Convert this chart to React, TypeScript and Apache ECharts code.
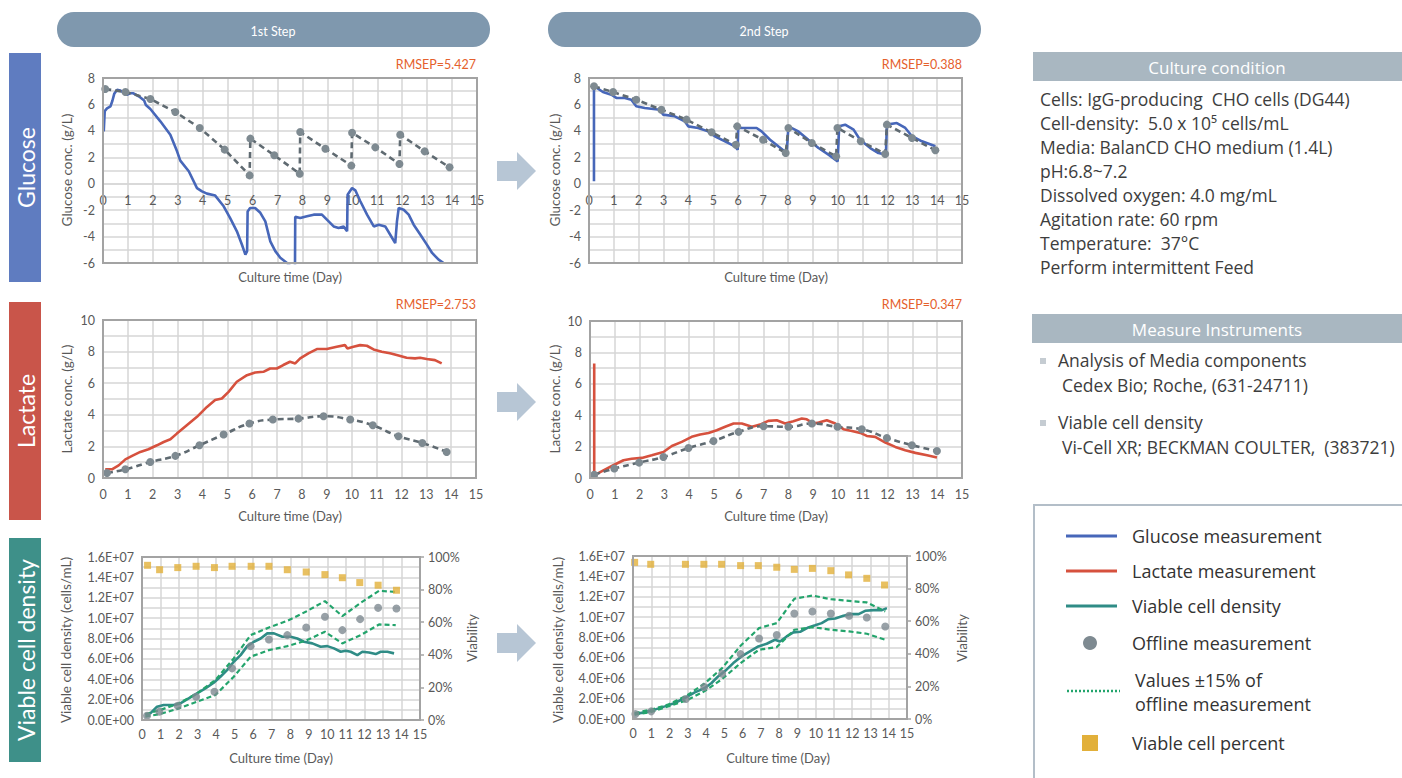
import React, { useEffect, useRef } from 'react';
import * as echarts from 'echarts';

// ---------- DATA ----------
const dayTicks = [0, 15];

const glucose1Online: number[][] = [
  [0.03, 3.96], [0.07, 5.5], [0.16, 5.7], [0.3, 5.85], [0.38, 6.3], [0.45, 6.8], [0.56, 7.1], [0.7, 7.05],
  [0.85, 6.85], [0.96, 6.72], [1.1, 6.85], [1.2, 6.85], [1.45, 6.6], [1.65, 6.3], [1.72, 5.95], [1.9, 5.65],
  [2.3, 4.72], [2.7, 3.71], [2.97, 2.45], [3.1, 1.75], [3.44, 0.94], [3.77, -0.33], [3.97, -0.58], [4.17, -0.75],
  [4.5, -0.9], [4.84, -1.71], [5.1, -2.6], [5.37, -3.6], [5.57, -4.6], [5.71, -5.37], [5.78, -5.1], [5.8, -2.1],
  [5.9, -1.84], [6.1, -1.84], [6.31, -2.2], [6.51, -2.85], [6.71, -4.36], [6.91, -5.1], [7.11, -5.6], [7.38, -6.0],
  [7.55, -6.3], [7.7, -6.3], [7.71, -2.5], [7.91, -2.6], [8.18, -2.47], [8.45, -2.34], [8.78, -2.34], [8.98, -2.72],
  [9.25, -3.23], [9.45, -3.35], [9.65, -3.23], [9.79, -3.6], [9.81, -0.83], [9.99, -0.33], [10.12, -0.5], [10.32, -1.33],
  [10.59, -2.34], [10.86, -3.23], [11.06, -3.1], [11.32, -3.23], [11.52, -3.86], [11.72, -4.49], [11.79, -2.85],
  [11.86, -1.84], [12.06, -1.97], [12.26, -2.34], [12.46, -3.1], [12.73, -3.86], [12.99, -4.61], [13.2, -5.24],
  [13.46, -5.75], [13.66, -6.0],
];
const glucose1Offline: number[][] = [
  [0.09, 7.17], [0.9, 6.94], [1.9, 6.41], [2.9, 5.43], [3.88, 4.22], [4.88, 2.58], [5.88, 0.63], [5.91, 3.41],
  [6.87, 2.15], [7.89, 0.76], [7.91, 3.91], [8.92, 2.65], [9.96, 1.37], [9.99, 3.86], [10.92, 2.75], [11.89, 1.49],
  [11.92, 3.71], [12.9, 2.45], [13.9, 1.24],
];
const glucose2Online: number[][] = [
  [0.2, 0.18], [0.2, 7.4], [0.56, 6.94], [0.9, 6.74], [1.1, 6.49], [1.44, 6.49], [1.7, 6.36], [1.9, 5.86],
  [2.24, 5.73], [2.85, 5.6], [2.98, 5.23], [3.45, 5.1], [3.85, 4.72], [3.99, 4.34], [4.39, 4.22], [4.79, 3.96],
  [5.06, 3.59], [5.47, 3.21], [5.87, 2.83], [5.98, 2.58], [6.0, 4.22], [6.27, 4.22], [6.74, 4.22], [6.94, 3.96],
  [7.28, 3.33], [7.61, 2.83], [7.95, 2.32], [8.02, 4.34], [8.42, 3.96], [8.82, 3.33], [9.23, 2.7], [9.63, 2.2],
  [10.0, 1.69], [10.06, 4.34], [10.3, 4.47], [10.64, 4.09], [10.9, 3.33], [11.31, 2.7], [11.64, 2.32], [11.94, 2.2],
  [11.98, 4.47], [12.38, 4.59], [12.72, 4.22], [12.99, 3.59], [13.39, 3.21], [13.93, 2.83],
];
const glucose2Offline: number[][] = [
  [0.2, 7.37], [0.97, 6.94], [1.9, 6.36], [2.91, 5.6], [3.92, 4.85], [4.93, 3.89], [5.91, 2.95], [5.96, 4.34],
  [7.0, 3.33], [7.91, 2.32], [8.02, 4.22], [8.96, 3.08], [9.94, 2.07], [9.99, 4.22], [10.93, 3.21], [11.91, 2.25],
  [11.98, 4.47], [12.99, 3.46], [13.93, 2.53],
];

const lactate1Online: number[][] = [
  [0.09, 0.55], [0.36, 0.55], [0.63, 0.8], [0.9, 1.18], [1.17, 1.4], [1.5, 1.65], [1.83, 1.82], [2.17, 2.07],
  [2.44, 2.28], [2.71, 2.45], [2.97, 2.81], [3.37, 3.34], [3.78, 3.87], [4.18, 4.5], [4.51, 4.93], [4.78, 5.03],
  [5.05, 5.45], [5.38, 6.09], [5.79, 6.51], [6.12, 6.68], [6.45, 6.72], [6.72, 6.93], [6.99, 6.93], [7.25, 7.15],
  [7.52, 7.36], [7.73, 7.25], [7.93, 7.57], [8.26, 7.89], [8.6, 8.16], [9.0, 8.16], [9.4, 8.31], [9.73, 8.41],
  [9.83, 8.2], [10.07, 8.31], [10.34, 8.41], [10.61, 8.37], [10.88, 8.14], [11.21, 7.99], [11.54, 7.89],
  [11.81, 7.78], [12.21, 7.61], [12.55, 7.57], [12.75, 7.61], [13.02, 7.53], [13.35, 7.46], [13.62, 7.25],
];
const lactate1Offline: number[][] = [
  [0.16, 0.32], [0.9, 0.55], [1.9, 1.01], [2.91, 1.4], [3.88, 2.07], [4.85, 2.75], [5.89, 3.45], [6.83, 3.7],
  [7.86, 3.76], [8.87, 3.91], [9.94, 3.7], [10.85, 3.34], [11.88, 2.64], [12.84, 2.22], [13.82, 1.65],
];
const lactate2Online: number[][] = [
  [0.17, 7.3], [0.17, 0.17], [0.54, 0.49], [0.94, 0.81], [1.35, 1.13], [1.68, 1.23], [2.09, 1.28], [2.49, 1.45],
  [2.96, 1.66], [3.3, 2.04], [3.7, 2.3], [4.1, 2.62], [4.44, 2.77], [4.78, 2.87], [5.11, 3.04], [5.45, 3.26],
  [5.79, 3.47], [6.12, 3.47], [6.53, 3.26], [6.86, 3.4], [7.19, 3.64], [7.53, 3.68], [7.87, 3.47], [8.2, 3.62],
  [8.54, 3.79], [8.74, 3.74], [9.01, 3.47], [9.22, 3.53], [9.55, 3.68], [9.89, 3.47], [10.22, 3.11], [10.56, 3.0],
  [10.9, 2.87], [11.16, 2.68], [11.5, 2.62], [11.91, 2.26], [12.31, 1.98], [12.71, 1.77], [13.12, 1.6],
  [13.59, 1.45], [13.99, 1.3],
];
const lactate2Offline: number[][] = [
  [0.17, 0.21], [0.98, 0.6], [1.98, 0.98], [2.96, 1.34], [3.97, 1.91], [4.98, 2.36], [5.99, 2.94], [7.0, 3.3],
  [8.0, 3.26], [8.95, 3.47], [9.98, 3.26], [10.96, 3.11], [11.97, 2.55], [12.98, 2.09], [13.99, 1.72],
];

const vcd1Online: number[][] = [
  [0.18, 0.49e6], [0.45, 0.65e6], [0.81, 1.31e6], [1.17, 1.47e6], [1.71, 1.47e6], [2.07, 1.63e6], [2.52, 2.12e6],
  [2.97, 2.61e6], [3.42, 3.1e6], [3.87, 3.66e6], [4.23, 4.25e6], [4.59, 4.9e6], [4.95, 5.72e6], [5.32, 6.37e6],
  [5.68, 7.25e6], [6.04, 7.68e6], [6.4, 8.0e6], [6.76, 8.5e6], [7.12, 8.5e6], [7.57, 8.17e6], [8.02, 8.17e6],
  [8.38, 8.0e6], [8.74, 7.68e6], [9.19, 7.52e6], [9.64, 7.19e6], [10.0, 7.25e6], [10.36, 7.03e6], [10.72, 6.7e6],
  [10.99, 6.8e6], [11.26, 6.7e6], [11.62, 6.37e6], [11.89, 6.7e6], [12.25, 6.63e6], [12.61, 6.47e6],
  [12.88, 6.7e6], [13.24, 6.7e6], [13.6, 6.54e6],
];
const vcd1Offline: number[][] = [
  [0.27, 0.42e6], [0.94, 0.82e6], [1.93, 1.4e6], [2.92, 2.29e6], [3.91, 2.78e6], [4.86, 5.07e6], [5.86, 7.25e6],
  [6.85, 7.91e6], [7.84, 8.33e6], [8.86, 9.08e6], [9.87, 10.13e6], [10.81, 8.82e6], [11.77, 9.9e6],
  [12.74, 11.01e6], [13.73, 10.95e6],
];
const vcd1Upper: number[][] = [
  [0.18, 0.59e6], [0.99, 0.98e6], [1.98, 1.63e6], [2.97, 2.61e6], [3.96, 3.92e6], [4.95, 6.05e6], [5.86, 8.33e6],
  [6.85, 9.08e6], [7.84, 9.74e6], [8.83, 10.62e6], [9.87, 11.67e6], [10.81, 10.2e6], [11.8, 11.5e6],
  [12.79, 12.68e6], [13.69, 12.58e6],
];
const vcd1Lower: number[][] = [
  [0.18, 0.33e6], [0.99, 0.59e6], [1.98, 1.14e6], [2.97, 1.8e6], [3.96, 2.45e6], [4.95, 4.25e6], [5.86, 6.21e6],
  [6.85, 6.86e6], [7.84, 7.25e6], [8.83, 7.78e6], [9.87, 8.66e6], [10.81, 7.52e6], [11.8, 8.33e6],
  [12.79, 9.38e6], [13.69, 9.31e6],
];
const viability1: number[][] = [
  [0.3, 94.9], [0.95, 92.2], [1.93, 93.5], [2.92, 94.3], [3.91, 93.5], [4.86, 94.3], [5.89, 94.3], [6.85, 94.3],
  [7.84, 92.2], [8.86, 90.8], [9.87, 89.2], [10.81, 87.3], [11.75, 84.3], [12.74, 82.7], [13.73, 79.6],
];

const vcd2Online: number[][] = [
  [0.09, 0.49e6], [0.64, 0.65e6], [1.19, 0.92e6], [1.74, 1.24e6], [2.29, 1.57e6], [2.83, 2.06e6], [3.38, 2.61e6],
  [3.93, 3.04e6], [4.3, 3.53e6], [4.66, 4.18e6], [5.12, 4.84e6], [5.49, 5.49e6], [5.94, 6.14e6], [6.4, 6.63e6],
  [6.86, 7.12e6], [7.32, 7.39e6], [7.77, 7.78e6], [8.05, 7.61e6], [8.41, 8.1e6], [8.78, 8.5e6], [9.15, 8.56e6],
  [9.6, 8.99e6], [9.97, 9.2e6], [10.33, 9.41e6], [10.7, 9.8e6], [11.07, 9.87e6], [11.52, 10.13e6],
  [11.89, 10.29e6], [12.35, 10.29e6], [12.71, 10.62e6], [13.17, 10.69e6], [13.63, 10.69e6], [13.9, 10.88e6],
];
const vcd2Offline: number[][] = [
  [0.13, 0.49e6], [1.0, 0.75e6], [2.89, 1.96e6], [3.9, 3.14e6], [4.88, 4.44e6], [5.89, 6.37e6], [6.9, 7.91e6],
  [7.87, 8.24e6], [8.83, 10.36e6], [9.82, 10.56e6], [10.83, 10.36e6], [11.83, 10.13e6], [12.8, 9.97e6],
  [13.81, 9.08e6],
];
const vcd2Upper: number[][] = [
  [0.09, 0.59e6], [1.0, 0.92e6], [1.92, 1.41e6], [2.93, 2.29e6], [3.9, 3.46e6], [4.88, 5.0e6], [5.89, 7.19e6],
  [6.9, 8.92e6], [7.87, 9.41e6], [8.83, 11.8e6], [9.82, 12.12e6], [10.83, 11.76e6], [11.83, 11.6e6],
  [12.8, 11.44e6], [13.81, 10.56e6],
];
const vcd2Lower: number[][] = [
  [0.09, 0.42e6], [1.0, 0.69e6], [1.92, 1.24e6], [2.93, 1.83e6], [3.9, 2.71e6], [4.88, 3.92e6], [5.89, 5.49e6],
  [6.9, 6.8e6], [7.87, 7.06e6], [8.83, 8.76e6], [9.82, 9.02e6], [10.83, 8.76e6], [11.83, 8.6e6],
  [12.8, 8.37e6], [13.81, 7.78e6],
];
const viability2: number[][] = [
  [0.09, 96.1], [0.97, 94.9], [2.87, 94.9], [3.88, 94.9], [4.85, 94.9], [5.89, 94.1], [6.86, 94.1], [7.87, 93.1],
  [8.83, 91.8], [9.82, 92.4], [10.83, 91.0], [11.8, 88.4], [12.8, 86.3], [13.77, 82.2],
];

const rmsepLabels = ['RMSEP=5.427', 'RMSEP=0.388', 'RMSEP=2.753', 'RMSEP=0.347'];
const stepLabels = ['1st Step', '2nd Step'];
const rowLabels = ['Glucose', 'Lactate', 'Viable cell density'];
const cultureLines = [
  'Cells: IgG-producing  CHO cells (DG44)',
  'Cell-density:  5.0 x 10\u2075 cells/mL',
  'Media: BalanCD CHO medium (1.4L)',
  'pH:6.8~7.2',
  'Dissolved oxygen: 4.0 mg/mL',
  'Agitation rate: 60 rpm',
  'Temperature:  37\u00b0C',
  'Perform intermittent Feed',
];
const instrumentItems = [
  ['Analysis of Media components', 'Cedex Bio; Roche, (631-24711)'],
  ['Viable cell density', 'Vi-Cell XR; BECKMAN COULTER,  (383721)'],
];
const legendLabels = [
  'Glucose measurement', 'Lactate measurement', 'Viable cell density', 'Offline measurement',
  'Values \u00b115% of', 'offline measurement', 'Viable cell percent',
];

// ---------- STYLE / LAYOUT ----------
const C = {
  glucose: '#4767b9',
  lactate: '#d6513e',
  vcd: '#2f8c86',
  offlineDot: '#7e8a91',
  offlineLine: '#5f6a71',
  band: '#23a46c',
  viab: '#e2b03a',
  grid: '#d6d6d6',
  border: '#a3a3a3',
  label: '#595959',
  rmsep: '#e5602c',
};
const FONT = 'Lato, "Noto Sans", sans-serif';
const PANEL_FONT = '"Open Sans", "Noto Sans", sans-serif';

const grids = [
  { left: 103, top: 78, width: 374, height: 185 },
  { left: 589, top: 78, width: 373, height: 185 },
  { left: 103, top: 320, width: 373, height: 158 },
  { left: 590, top: 321, width: 372, height: 157 },
  { left: 142, top: 557, width: 278, height: 163 },
  { left: 633, top: 556, width: 274, height: 163 },
];
// glucose y range -6..8: the day axis sits on the zero line
const glucoseMin = -6;
const glucoseMax = 8;

function sci(v: number): string {
  const [m, e] = v.toExponential(1).split('e');
  const ex = parseInt(e, 10);
  return `${m}E${ex < 0 ? '-' : '+'}${String(Math.abs(ex)).padStart(2, '0')}`;
}

function buildOption() {
  const xAxis = grids.map((g, i) => ({
    type: 'value',
    gridIndex: i,
    position: 'bottom',
    min: dayTicks[0],
    max: dayTicks[1],
    interval: 1,
    offset: i < 2 ? -(g.height * (0 - glucoseMin)) / (glucoseMax - glucoseMin) : 0,
    axisLine: { show: true, onZero: false, lineStyle: { color: C.grid, width: 1.5 } },
    axisTick: { show: false },
    splitLine: { show: true, lineStyle: { color: C.grid, width: 1.5 } },
    axisLabel: { color: C.label, fontSize: 12.5, fontFamily: FONT, margin: i < 4 ? 10 : 8 },
  }));

  const baseY = (i: number) => ({
    type: 'value',
    gridIndex: i,
    axisLine: { show: false },
    axisTick: { show: false },
    splitLine: { show: true, lineStyle: { color: C.grid, width: 1.5 } },
    axisLabel: { color: C.label, fontSize: 12.5, fontFamily: FONT, margin: 8 },
  });

  const evenFmt = (v: number) => (v % 2 === 0 ? String(v) : '');
  const sciFmt = (v: number) => (Math.round(v) % 2e6 === 0 ? sci(v) : '');
  const yAxis: any[] = [
    { ...baseY(0), min: glucoseMin, max: glucoseMax, interval: 1, axisLabel: { ...baseY(0).axisLabel, formatter: evenFmt } },
    { ...baseY(1), min: glucoseMin, max: glucoseMax, interval: 1, axisLabel: { ...baseY(1).axisLabel, formatter: evenFmt } },
    { ...baseY(2), min: 0, max: 10, interval: 1, axisLabel: { ...baseY(2).axisLabel, formatter: evenFmt } },
    { ...baseY(3), min: 0, max: 10, interval: 1, axisLabel: { ...baseY(3).axisLabel, formatter: evenFmt } },
    { ...baseY(4), min: 0, max: 1.6e7, interval: 1e6, axisLabel: { ...baseY(4).axisLabel, formatter: sciFmt } },
    { ...baseY(5), min: 0, max: 1.6e7, interval: 1e6, axisLabel: { ...baseY(5).axisLabel, formatter: sciFmt } },
  ];
  [4, 5].forEach((g) => {
    yAxis.push({
      type: 'value', gridIndex: g, position: 'right', min: 0, max: 100, interval: 20,
      axisLine: { show: false },
      axisTick: { show: true, length: 4, lineStyle: { color: C.border, width: 1.5 } },
      splitLine: { show: false },
      axisLabel: { color: C.label, fontSize: 12.5, fontFamily: FONT, margin: 8, formatter: '{value}%' },
    });
  });

  const online = (data: number[][], idx: number, color: string) => ({
    type: 'line', xAxisIndex: idx, yAxisIndex: idx, data, showSymbol: false, symbol: 'none',
    lineStyle: { color, width: 2.6 }, z: 3,
  });
  const offlineLine = (data: number[][], idx: number, smooth = false) => ({
    type: 'line', xAxisIndex: idx, yAxisIndex: idx, data, smooth, symbol: 'circle', symbolSize: 8, showSymbol: true,
    itemStyle: { color: C.offlineDot }, lineStyle: { color: C.offlineLine, width: 2.6, type: [6, 4] }, z: 4,
  });
  const band = (data: number[][], idx: number) => ({
    type: 'line', xAxisIndex: idx, yAxisIndex: idx, data, symbol: 'none', showSymbol: false,
    lineStyle: { color: C.band, width: 2.2, type: [5, 3] }, z: 4,
  });
  const dots = (data: number[][], idx: number) => ({
    type: 'scatter', xAxisIndex: idx, yAxisIndex: idx, data, symbol: 'circle', symbolSize: 8,
    itemStyle: { color: C.offlineDot }, z: 5,
  });
  const squares = (data: number[][], idx: number, yIdx: number) => ({
    type: 'scatter', xAxisIndex: idx, yAxisIndex: yIdx, data, symbol: 'rect', symbolSize: 7,
    itemStyle: { color: C.viab }, z: 5,
  });

  const series = [
    online(glucose1Online, 0, C.glucose),
    offlineLine(glucose1Offline, 0),
    online(glucose2Online, 1, C.glucose),
    offlineLine(glucose2Offline, 1),
    online(lactate1Online, 2, C.lactate),
    offlineLine(lactate1Offline, 2, true),
    online(lactate2Online, 3, C.lactate),
    offlineLine(lactate2Offline, 3, true),
    online(vcd1Online, 4, C.vcd),
    band(vcd1Upper, 4),
    band(vcd1Lower, 4),
    dots(vcd1Offline, 4),
    squares(viability1, 4, 6),
    online(vcd2Online, 5, C.vcd),
    band(vcd2Upper, 5),
    band(vcd2Lower, 5),
    dots(vcd2Offline, 5),
    squares(viability2, 5, 7),
  ];

  const txt = (text: string, x: number, y: number, o: any = {}) => ({
    type: 'text', x, y, rotation: o.rotation || 0, z: 100,
    style: {
      text, fill: o.fill || C.label, font: o.font || `12px ${FONT}`,
      textAlign: o.align || 'center', textVerticalAlign: 'middle',
    },
  });

  const graphic: any[] = [];
  // plot borders
  grids.forEach((g) => {
    graphic.push({
      type: 'rect', z: 90, silent: true,
      shape: { x: g.left, y: g.top, width: g.width, height: g.height },
      style: { fill: 'none', stroke: C.border, lineWidth: 2 },
    });
  });
  // step banners
  const bannerX = [57, 548];
  bannerX.forEach((bx, i) => {
    graphic.push({ type: 'rect', z: 90, shape: { x: bx, y: 12, width: 433, height: 35, r: 17 }, style: { fill: '#7f98ae' } });
    graphic.push(txt(stepLabels[i], bx + 216, 31, { fill: '#ffffff', font: `12.5px ${FONT}` }));
  });
  // row boxes
  const rowBoxes = [
    { y: 53, h: 229, color: '#5f7cc0' },
    { y: 302, h: 218, color: '#c9554a' },
    { y: 538, h: 224, color: '#3e9089' },
  ];
  rowBoxes.forEach((b, i) => {
    graphic.push({ type: 'rect', z: 90, shape: { x: 9, y: b.y, width: 32, height: b.h }, style: { fill: b.color } });
    graphic.push(txt(rowLabels[i], 26, b.y + b.h / 2, { fill: '#ffffff', font: `23px ${FONT}`, rotation: Math.PI / 2 }));
  });
  // arrows
  [171, 402, 643].forEach((cy) => {
    graphic.push({
      type: 'polygon', z: 90,
      shape: { points: [[497, cy - 10], [517, cy - 10], [517, cy - 19], [536, cy], [517, cy + 19], [517, cy + 10], [497, cy + 10]] },
      style: { fill: '#b7c6d5' },
    });
  });
  // RMSEP
  const rf = { fill: C.rmsep, align: 'right', font: `12.5px ${FONT}` };
  graphic.push(txt(rmsepLabels[0], 476, 64, rf));
  graphic.push(txt(rmsepLabels[1], 962, 64, rf));
  graphic.push(txt(rmsepLabels[2], 476, 304, rf));
  graphic.push(txt(rmsepLabels[3], 962, 304, rf));
  // axis names
  const xName = 'Culture time (Day)';
  const xf = { font: `13px ${FONT}` };
  graphic.push(txt(xName, 290, 277, xf));
  graphic.push(txt(xName, 776, 277, xf));
  graphic.push(txt(xName, 290, 516, xf));
  graphic.push(txt(xName, 776, 516, xf));
  graphic.push(txt(xName, 281, 758, xf));
  graphic.push(txt(xName, 778, 758, xf));
  const rot = Math.PI / 2;
  const yf = { rotation: rot, font: `13.5px ${FONT}` };
  graphic.push(txt('Glucose conc. (g/L)', 67, 170, yf));
  graphic.push(txt('Glucose conc. (g/L)', 555, 170, yf));
  graphic.push(txt('Lactate conc. (g/L)', 67, 399, yf));
  graphic.push(txt('Lactate conc. (g/L)', 555, 399, yf));
  graphic.push(txt('Viable cell density (cells/mL)', 66, 640, yf));
  graphic.push(txt('Viable cell density (cells/mL)', 558, 640, yf));
  graphic.push(txt('Viability', 472, 638, yf));
  graphic.push(txt('Viability', 962, 638, yf));

  // right panel: culture condition
  const textDark = '#3d3d3d';
  graphic.push({ type: 'rect', z: 90, shape: { x: 1033, y: 52, width: 369, height: 29 }, style: { fill: '#a9b7c1' } });
  graphic.push(txt('Culture condition', 1217, 67, { fill: '#ffffff', font: `17px ${PANEL_FONT}` }));
  cultureLines.forEach((l, i) => {
    graphic.push(txt(l, 1040, 99 + i * 24, { fill: textDark, font: `17.5px ${PANEL_FONT}`, align: 'left' }));
  });
  // measure instruments
  graphic.push({ type: 'rect', z: 90, shape: { x: 1032, y: 314, width: 370, height: 29 }, style: { fill: '#a9b7c1' } });
  graphic.push(txt('Measure Instruments', 1217, 329, { fill: '#ffffff', font: `17px ${PANEL_FONT}` }));
  instrumentItems.forEach((it, i) => {
    const y = 360 + i * 62;
    graphic.push({ type: 'rect', z: 90, shape: { x: 1040, y: y - 2, width: 6, height: 6 }, style: { fill: '#c5ccd2' } });
    graphic.push(txt(it[0], 1058, y, { fill: textDark, font: `17.5px ${PANEL_FONT}`, align: 'left' }));
    graphic.push(txt(it[1], 1062, y + 25, { fill: textDark, font: `17.5px ${PANEL_FONT}`, align: 'left' }));
  });
  // legend
  graphic.push({
    type: 'rect', z: 90, shape: { x: 1034, y: 505, width: 420, height: 320 },
    style: { fill: 'none', stroke: '#b3bec8', lineWidth: 2 },
  });
  const legFont = `18px ${PANEL_FONT}`;
  const legColors = [C.glucose, C.lactate, C.vcd];
  [536, 571, 606].forEach((y, i) => {
    graphic.push({ type: 'line', z: 90, shape: { x1: 1066, y1: y, x2: 1117, y2: y }, style: { stroke: legColors[i], lineWidth: 3 } });
    graphic.push(txt(legendLabels[i], 1132, y, { fill: '#333333', font: legFont, align: 'left' }));
  });
  graphic.push({ type: 'circle', z: 90, shape: { cx: 1090, cy: 643, r: 7 }, style: { fill: C.offlineDot } });
  graphic.push(txt(legendLabels[3], 1132, 643, { fill: '#333333', font: legFont, align: 'left' }));
  graphic.push({
    type: 'line', z: 90, shape: { x1: 1067, y1: 691, x2: 1120, y2: 691 },
    style: { stroke: C.band, lineWidth: 2.5, lineDash: [2, 2] },
  });
  graphic.push(txt(legendLabels[4], 1135, 680, { fill: '#333333', font: legFont, align: 'left' }));
  graphic.push(txt(legendLabels[5], 1135, 704, { fill: '#333333', font: legFont, align: 'left' }));
  graphic.push({ type: 'rect', z: 90, shape: { x: 1082, y: 735, width: 16, height: 16 }, style: { fill: C.viab } });
  graphic.push(txt(legendLabels[6], 1132, 743, { fill: '#333333', font: legFont, align: 'left' }));

  return {
    animation: false,
    backgroundColor: '#ffffff',
    grid: grids.map((g) => ({ ...g, containLabel: false })),
    xAxis,
    yAxis,
    series,
    graphic,
  };
}

export default function App() {
  const ref = useRef<HTMLDivElement>(null);
  useEffect(() => {
    if (!ref.current) return;
    const chart = echarts.init(ref.current, undefined, { renderer: 'svg' });
    chart.setOption(buildOption() as any);
    return () => chart.dispose();
  }, []);
  return (
    <div
      ref={ref}
      style={{ position: 'fixed', left: 0, top: 0, width: 1402, height: 778, background: '#fff' }}
    />
  );
}
